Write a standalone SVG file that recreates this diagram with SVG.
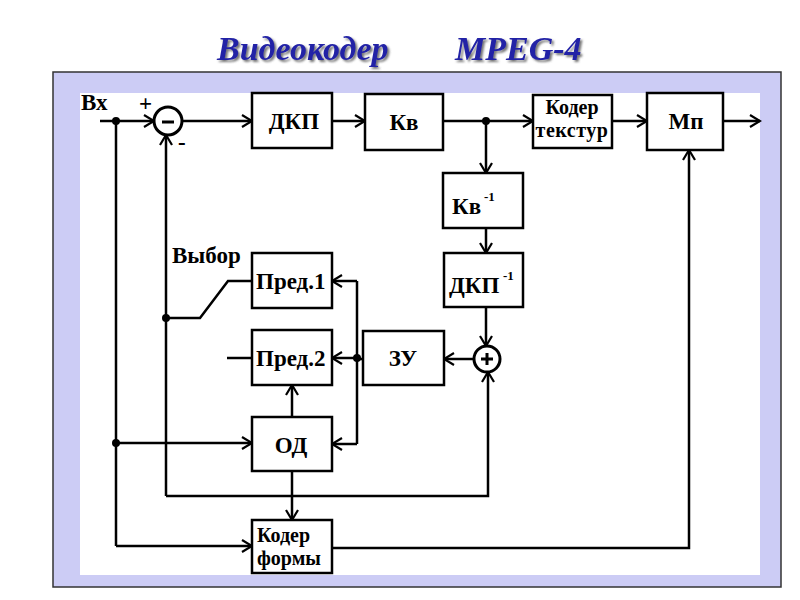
<svg xmlns="http://www.w3.org/2000/svg" width="800" height="600" viewBox="0 0 800 600">
<defs>
<style>
.ln{fill:none;stroke:#000;stroke-width:2.5;stroke-linejoin:miter}
.ar{marker-end:url(#arr)}
.box{fill:#fff;stroke:#000;stroke-width:2.5}
.t{font-family:"Liberation Serif",serif;font-weight:bold;font-size:23px;fill:#000}
.ts{font-family:"Liberation Serif",serif;font-weight:bold;font-size:20px;fill:#000}
.sup{font-family:"Liberation Serif",serif;font-weight:bold;font-size:13px;fill:#000}
.title{font-family:"Liberation Serif",serif;font-weight:bold;font-style:italic;font-size:34px;fill:#2323a6;filter:url(#sh)}
</style>
<filter id="sh" x="-10%" y="-20%" width="120%" height="150%">
<feDropShadow dx="2" dy="2" stdDeviation="0.8" flood-color="#555" flood-opacity="0.8"/>
</filter>
<marker id="arr" markerUnits="userSpaceOnUse" markerWidth="14" markerHeight="14" refX="12" refY="7" orient="auto">
<path d="M2,1 L12,7 L2,13" fill="none" stroke="#000" stroke-width="2.2"/>
</marker>
</defs>
<rect width="800" height="600" fill="#fff"/>
<g id="title">
<text class="title" x="217" y="60">Видеокодер</text>
<text class="title" x="455" y="60" font-size="35">MPEG-4</text>
</g>
<rect x="53" y="72" width="728" height="515" fill="#ccccf5" stroke="#333" stroke-width="1.5"/>
<rect x="80" y="93" width="680" height="482" fill="#fff"/>
<g id="connectors">
<path class="ln ar" d="M100,121 H154"/>
<path class="ln ar" d="M182,121 H252"/>
<path class="ln ar" d="M332,121 H365"/>
<path class="ln ar" d="M443,121 H533"/>
<path class="ln ar" d="M486,121 V173"/>
<path class="ln ar" d="M612,121 H647"/>
<path class="ln ar" d="M723,121 H760"/>
<path class="ln ar" d="M486,228 V253"/>
<path class="ln ar" d="M486,307 V346"/>
<path class="ln ar" d="M474,359 H444"/>
<path class="ln" d="M363,359 H357"/>
<path class="ln" d="M357,281 V444"/>
<path class="ln ar" d="M357,281 H332"/>
<path class="ln ar" d="M357,358 H332"/>
<path class="ln ar" d="M357,444 H332"/>
<path class="ln" d="M227,358 H252"/>
<path class="ln ar" d="M292,471 V520"/>
<path class="ln ar" d="M292,417 V385"/>
<path class="ln ar" d="M166,496 V135"/>
<path class="ln ar" d="M166,496 H488 V372"/>
<path class="ln" d="M166,318 H200 L228,281 H252"/>
<path class="ln" d="M116,121 V546"/>
<path class="ln ar" d="M116,443 H252"/>
<path class="ln ar" d="M116,546 H252"/>
<path class="ln ar" d="M332,548 H689 V150"/>
<circle cx="116" cy="121" r="4"/>
<circle cx="486" cy="121" r="4"/>
<circle cx="357" cy="358" r="4"/>
<circle cx="166" cy="318" r="4"/>
<circle cx="116" cy="443" r="4"/>
</g>
<g id="input">
<text class="t" x="81" y="110" font-size="20">Вх</text>
<text class="t" x="139" y="111">+</text>
<text class="t" x="178" y="150">-</text>
</g>
<g id="subtractor">
<circle cx="168" cy="121" r="14" fill="#fff" stroke="#000" stroke-width="3"/>
<path d="M162,122 H174" stroke="#000" stroke-width="3"/>
</g>
<g id="dkp"><rect class="box" x="252" y="93" width="80" height="55"/><text class="t" x="294" y="129" text-anchor="middle">ДКП</text></g>
<g id="kv"><rect class="box" x="365" y="94" width="78" height="56"/><text class="t" x="404" y="130" text-anchor="middle">Кв</text></g>
<g id="coder-tex"><rect class="box" x="533" y="95" width="79" height="53"/><text class="ts" x="572" y="114" text-anchor="middle">Кодер</text><text class="ts" x="572" y="137" text-anchor="middle" letter-spacing="0.5">текстур</text></g>
<g id="mp"><rect class="box" x="647" y="93" width="76" height="57"/><text class="t" x="686" y="129" text-anchor="middle">Мп</text></g>
<g id="kv-inv"><rect class="box" x="443" y="173" width="80" height="55"/><text class="t" x="452" y="214">Кв</text><text class="sup" x="484" y="201">-1</text></g>
<g id="dkp-inv"><rect class="box" x="444" y="253" width="79" height="54"/><text class="t" x="449" y="293">ДКП</text><text class="sup" x="503" y="280">-1</text></g>
<g id="sum"><circle cx="487" cy="359" r="13" fill="#fff" stroke="#000" stroke-width="3"/><path d="M481,359 H493 M487,353 V365" stroke="#000" stroke-width="3"/></g>
<g id="zu"><rect class="box" x="363" y="331" width="81" height="54"/><text class="t" x="403" y="366" text-anchor="middle">ЗУ</text></g>
<g id="pred1"><rect class="box" x="252" y="253" width="80" height="55"/><text class="t" x="256" y="289" font-size="21">Пред.1</text></g>
<g id="pred2"><rect class="box" x="252" y="330" width="80" height="55"/><text class="t" x="256" y="366" font-size="21">Пред.2</text></g>
<g id="od"><rect class="box" x="252" y="417" width="80" height="54"/><text class="t" x="291" y="453" text-anchor="middle">ОД</text></g>
<g id="coder-shape"><rect class="box" x="252" y="520" width="80" height="53"/><text class="ts" x="257" y="542" font-size="21">Кодер</text><text class="ts" x="257" y="565" font-size="21">формы</text></g>
<g id="select"><text class="t" x="172" y="263" font-size="21">Выбор</text></g>
</svg>
